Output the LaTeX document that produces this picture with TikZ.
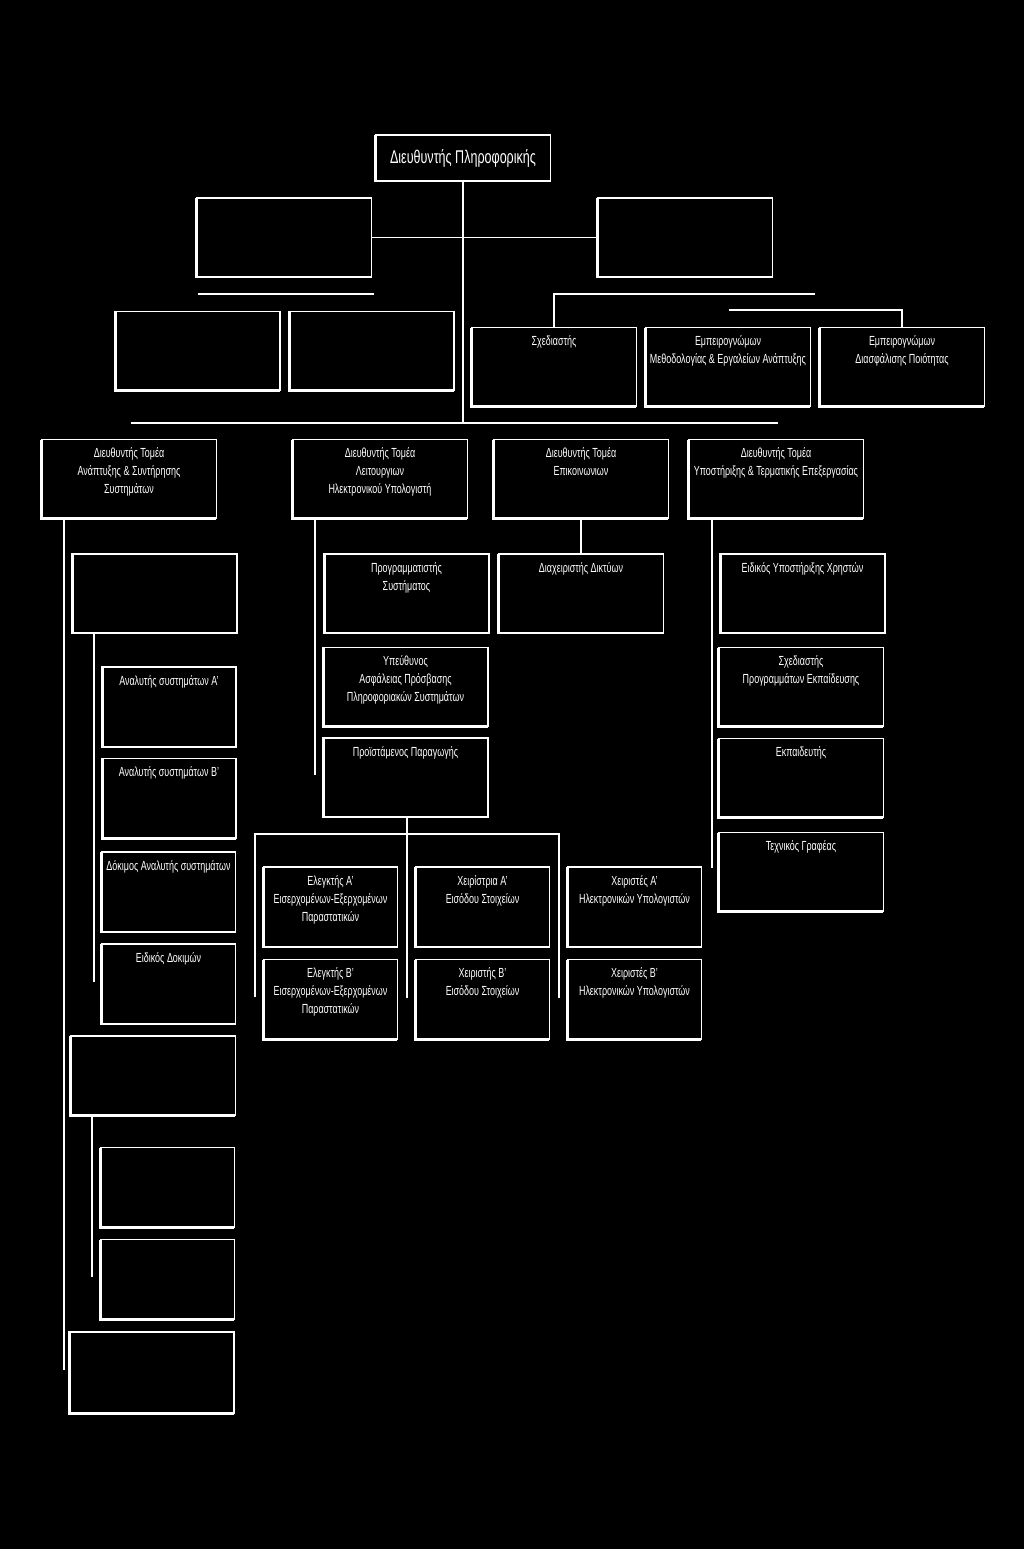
\documentclass[tikz,border=0pt]{standalone}
\usepackage{fontspec}
\setmainfont{Liberation Sans}[FakeStretch=0.68]
\begin{document}
\begin{tikzpicture}[x=0.02cm, y=-0.02cm]
        \tikzstyle{post}=[draw=white, line width=0.6pt, inner sep=0pt, outer sep=0pt, text=white]
        \tikzstyle{wide}=[post, minimum width=3.5cm, minimum height=1.58cm]
        \tikzstyle{mid}=[post, minimum width=3.3cm, minimum height=1.58cm]
        \tikzstyle{slim}=[post, minimum width=2.68cm, minimum height=1.6cm]
        \tikzstyle{caption}=[text=white, align=center, inner sep=0pt, font=\fontsize{7.5}{10.2}\selectfont]
        \tikzstyle{link}=[white, line width=0.7pt]
        \tikzstyle{shade}=[white, line width=1.7pt]
        \tikzset{cap/.style={label={[caption, anchor=north, label distance=-4.5pt]north:{#1}}}}

        \fill[black] (0,0) rectangle (1024,1549);

        % Head and staff
        \node[wide, minimum height=0.92cm, font=\fontsize{10.5}{12}\selectfont] (head) at (463,158) {Διευθυντής Πληροφορικής};
        \node[wide] (staffL) at (284,237.5) {};
        \node[wide] (staffR) at (685,237.5) {};

        % Second row
        \node[mid] (blankA) at (197.5,351) {};
        \node[mid] (blankB) at (371.5,351) {};
        \node[mid, cap={Σχεδιαστής}] (designer) at (554,367) {};
        \node[mid, cap={Εμπειρογνώμων\\Μεθοδολογίας \& Εργαλείων Ανάπτυξης}] (method) at (728,367) {};
        \node[mid, cap={Εμπειρογνώμων\\Διασφάλισης Ποιότητας}] (quality) at (902,367) {};

        % Directors
        \node[wide, cap={Διευθυντής Τομέα\\Ανάπτυξης \& Συντήρησης\\Συστημάτων}] (dirDev) at (129,479) {};
        \node[wide, cap={Διευθυντής Τομέα\\Λειτουργιων\\Ηλεκτρονικού Υπολογιστή}] (dirOps) at (380,479) {};
        \node[wide, cap={Διευθυντής Τομέα\\Επικοινωνιων}] (dirCom) at (581,479) {};
        \node[wide, cap={Διευθυντής Τομέα\\Υποστήριξης \& Τερματικής Επεξεργασίας}] (dirSup) at (776,479) {};

        % Fourth row
        \node[mid] (blankC) at (154.5,593.5) {};
        \node[mid, cap={Προγραμματιστής\\Συστήματος}] (sysProg) at (406.5,593.5) {};
        \node[mid, cap={Διαχειριστής Δικτύων}] (netAdm) at (581,593.5) {};
        \node[mid, cap={Ειδικός Υποστήριξης Χρηστών}] (userSup) at (802.5,593.5) {};

        % Analysts, security, training
        \node[slim, cap={Αναλυτής συστημάτων Α'}] (anA) at (169,707) {};
        \node[mid, cap={Υπεύθυνος\\Ασφάλειας Πρόσβασης\\Πληροφοριακών Συστημάτων}] (secure) at (405.5,687) {};
        \node[mid, cap={Σχεδιαστής\\Προγραμμάτων Εκπαίδευσης}] (trainDes) at (801,687) {};
        \node[slim, cap={Αναλυτής συστημάτων Β'}] (anB) at (169,798.5) {};
        \node[mid, cap={Προϊστάμενος Παραγωγής}] (prodHead) at (405.5,777.5) {};
        \node[mid, cap={Εκπαιδευτής}] (trainer) at (801,778) {};
        \node[mid, cap={Τεχνικός Γραφέας}] (techWr) at (801,872) {};
        \node[slim, cap={Δόκιμος Αναλυτής συστημάτων}] (trainee) at (168.5,892) {};
        \node[slim, cap={Ειδικός Δοκιμών}] (specTest) at (168.5,984) {};

        % Production staff
        \node[slim, cap={Ελεγκτής Α'\\Εισερχομένων-Εξερχομένων\\Παραστατικών}] (ctlA) at (330.5,907) {};
        \node[slim, cap={Χειρίστρια Α'\\Εισόδου Στοιχείων}] (opA) at (482.5,907) {};
        \node[slim, cap={Χειριστές Α'\\Ηλεκτρονικών Υπολογιστών}] (pcA) at (634.5,907) {};
        \node[slim, cap={Ελεγκτής Β'\\Εισερχομένων-Εξερχομένων\\Παραστατικών}] (ctlB) at (330.5,999.5) {};
        \node[slim, cap={Χειριστής Β'\\Εισόδου Στοιχείων}] (opB) at (482.5,999.5) {};
        \node[slim, cap={Χειριστές Β'\\Ηλεκτρονικών Υπολογιστών}] (pcB) at (634.5,999.5) {};

        % Lower left
        \node[mid] (blankD) at (153,1075.5) {};
        \node[slim] (blankE) at (167.5,1187.5) {};
        \node[slim] (blankF) at (167.5,1279.5) {};
        \node[mid, minimum height=1.62cm] (blankG) at (151.5,1372.5) {};

        % Thick left and bottom edges
        \foreach \n in {head, staffL, staffR, blankA, blankB, designer, method, quality,
                dirDev, dirOps, dirCom, dirSup, blankC, sysProg, netAdm, userSup,
                anA, secure, trainDes, anB, prodHead, trainer, techWr, trainee, specTest,
                ctlA, opA, pcA, ctlB, opB, pcB, blankD, blankE, blankF, blankG}
            \draw[shade] (\n.north west) -- (\n.south west) -- (\n.south east);

        % Trunk and staff
        \coordinate (trunk) at (463,423);
        \coordinate (busL) at (131,423);
        \coordinate (busR) at (778,423);
        \draw[link] (head) -- (trunk);
        \draw[link] (busL) -- (busR);
        \draw[link] (staffL) -- (staffR);
        \coordinate (ruleL) at (198,294);
        \coordinate (ruleR) at (374,294);
        \draw[link] (ruleL) -- (ruleR);
        \coordinate (armA) at (815,294);
        \coordinate (armB) at (729,310);
        \draw[link] (designer.north) |- (armA);
        \draw[link] (quality.north) |- (armB);

        % Departments
        \coordinate (devEnd) at (64,1370);
        \coordinate (anEnd) at (94,982);
        \coordinate (opsEnd) at (315,775);
        \coordinate (supEnd) at (712,868);
        \coordinate (blankEnd) at (92,1277);
        \draw[link] (dirDev.south -| devEnd) -- (devEnd);
        \draw[link] (blankC.south -| anEnd) -- (anEnd);
        \draw[link] (dirOps.south -| opsEnd) -- (opsEnd);
        \draw[link] (dirCom) -- (netAdm);
        \draw[link] (dirSup.south -| supEnd) -- (supEnd);
        \draw[link] (blankD.south -| blankEnd) -- (blankEnd);

        % Production fork
        \coordinate (prodEnd) at (407,998);
        \coordinate (forkL) at (255,997);
        \coordinate (forkTop) at (407,834);
        \coordinate (forkR) at (559,998);
        \draw[link] (prodHead.south -| prodEnd) -- (prodEnd);
        \draw[link] (forkL) |- (forkTop) -| (forkR);
    \end{tikzpicture}
\end{document}
